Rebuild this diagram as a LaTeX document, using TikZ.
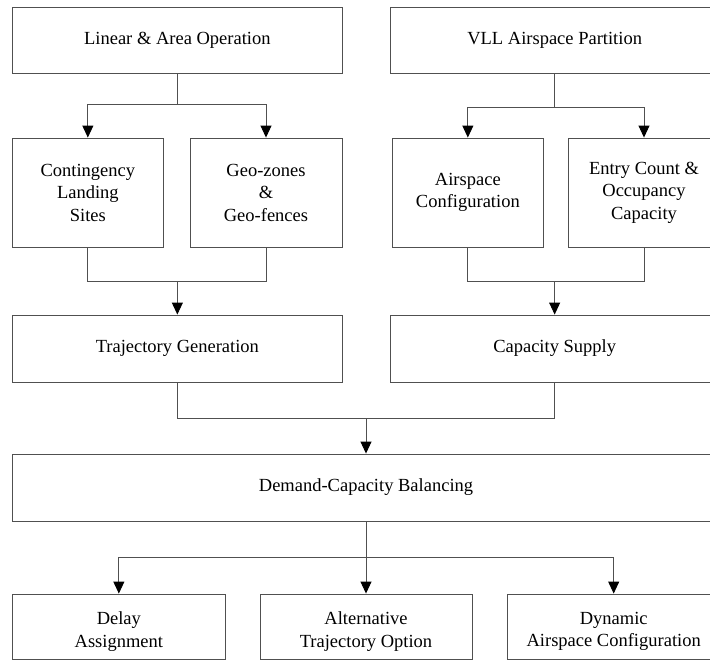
\documentclass[tikz,border=0pt]{standalone}
\usepackage{fontspec}
\setmainfont{Liberation Serif}
\usetikzlibrary{arrows.meta}
\definecolor{linegray}{RGB}{80,80,80}
\begin{document}
\begin{tikzpicture}[x=1pt,y=-1pt,
  txt/.style={align=center,font=\fontsize{18.5}{22.5}\selectfont},
  box/.style={draw=linegray,line width=0.9pt,inner sep=0pt,txt},
  lowbox/.style={box,minimum height=65pt,label={[txt,yshift=-5pt]center:#1}},
  conn/.style={draw=linegray,line width=0.9pt},
  arr/.style={conn,-{Triangle[width=11pt,length=12pt,color=black]}}]
\useasboundingbox (0,0) rectangle (710,662);
\clip (0,0) rectangle (710,662);
% row 1
\node[box,minimum width=329.3pt,minimum height=65.7pt] (LA) at (177.35,40.15) {Linear \& Area Operation};
\node[box,minimum width=329.3pt,minimum height=65.7pt] (VLL) at (554.65,40.15) {VLL Airspace Partition};
% row 2
\node[box,minimum width=150.3pt,minimum height=109pt] (CLS) at (87.85,192.5) {Contingency\\Landing\\Sites};
\node[box,minimum width=152pt,minimum height=109pt] (GEO) at (266,192.5) {Geo-zones\\\&\\Geo-fences};
\node[box,minimum width=150.3pt,minimum height=109pt] (AC) at (467.85,192.5) {Airspace\\Configuration};
\node[box,minimum width=152pt,minimum height=109pt] (EC) at (644,192.5) {Entry Count \&\\Occupancy\\Capacity};
% row 3
\node[box,minimum width=329.3pt,minimum height=67pt] (TG) at (177.35,348.5) {Trajectory Generation};
\node[box,minimum width=329.3pt,minimum height=67pt] (CS) at (554.65,348.5) {Capacity Supply};
% row 4
\node[box,minimum width=706.6pt,minimum height=67pt] (DCB) at (366,487.5) {Demand-Capacity Balancing};
% row 5
\node[lowbox={Delay\\Assignment},minimum width=212.3pt] (DA) at (118.85,626.5) {};
\node[lowbox={Alternative\\Trajectory Option},minimum width=212pt] (ATO) at (366,626.5) {};
\node[lowbox={Dynamic\\Airspace Configuration},minimum width=212pt] (DAC) at (613.7,626.5) {};
% junctions
\coordinate (j1) at (177.35,104.3);
\coordinate (j2) at (554.65,107.3);
\coordinate (j3) at (177.35,281.5);
\coordinate (j4) at (554.65,281.5);
\coordinate (j5) at (366,418.3);
\coordinate (j6) at (366,557.7);
% connectors
\draw[conn] (LA.south) -- (j1);
\draw[arr] (j1) -| (CLS.north);
\draw[arr] (j1) -| (GEO.north);
\draw[conn] (VLL.south) -- (j2);
\draw[arr] (j2) -| (AC.north);
\draw[arr] (j2) -| (EC.north);
\draw[conn] (CLS.south) |- (j3) -| (GEO.south);
\draw[arr] (j3) -- (TG.north);
\draw[conn] (AC.south) |- (j4) -| (EC.south);
\draw[arr] (j4) -- (CS.north);
\draw[conn] (TG.south) |- (j5) -| (CS.south);
\draw[arr] (j5) -- (DCB.north);
\draw[conn] (DCB.south) -- (j6);
\draw[arr] (j6) -- (ATO.north);
\draw[arr] (j6) -| (DA.north);
\draw[arr] (j6) -| (DAC.north);
\end{tikzpicture}
\end{document}
